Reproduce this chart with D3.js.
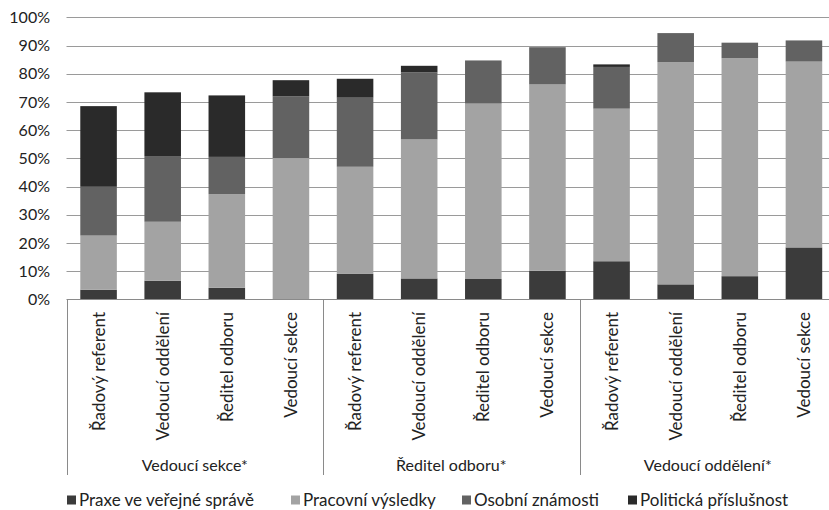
<!DOCTYPE html>
<html><head><meta charset="utf-8">
<script src="https://cdn.jsdelivr.net/npm/d3@7"></script>
<style>body{margin:0;background:#fff}svg{display:block;font-family:Lato,"Open Sans",sans-serif}</style>
</head><body><svg id="c" width="829" height="510"></svg>
<script>
const groups = ["Vedoucí sekce*", "Ředitel odboru*", "Vedoucí oddělení*"];
const roles = ["Řadový referent", "Vedoucí oddělení", "Ředitel odboru", "Vedoucí sekce"];
const seriesNames = ["Praxe ve veřejné správě", "Pracovní výsledky", "Osobní známosti", "Politická příslušnost"];
const praxe      = [3.4, 6.6, 4.1, 0,    9.0, 7.4, 7.2, 10.1,  13.5, 5.3, 8.2, 18.4];
const pracovni   = [19.2, 20.9, 33.2, 50.1, 38.0, 49.3, 62.2, 66.1, 54.1, 78.8, 77.3, 65.9];
const osobni     = [17.3, 23.3, 13.2, 21.9, 24.5, 23.8, 15.3, 13.2, 14.8, 10.3, 5.5, 7.5];
const politicka  = [28.6, 22.6, 21.8, 5.7,  6.7, 2.3, 0,    0,    0.9, 0, 0, 0];
const yTicks = [0,10,20,30,40,50,60,70,80,90,100];
const colors = ["#3b3b3b", "#a3a3a3", "#626262", "#2a2a2a"];

const cats = [];
groups.forEach((g,gi)=>roles.forEach((r,ri)=>cats.push({id:gi*4+ri, group:g, role:r})));
const rows = cats.map((c,i)=>({id:c.id, s0:praxe[i], s1:pracovni[i], s2:osobni[i], s3:politicka[i]}));
const stack = d3.stack().keys(["s0","s1","s2","s3"])(rows);

const svg = d3.select("#c");
const x0 = 66.5, x1 = 836;
const x = d3.scaleBand().domain(cats.map(c=>c.id)).range([x0,x1]).paddingInner(0.43).paddingOuter(0.215);
const xg = d3.scaleBand().domain(groups).range([x0,x1]);
const y = d3.scaleLinear().domain([0,100]).range([299.3,17.3]);

// gridlines
svg.append("g").selectAll("line").data(yTicks.filter(t=>t>0)).join("line")
  .attr("x1",x0).attr("x2",829).attr("y1",d=>Math.round(y(d))+0.5).attr("y2",d=>Math.round(y(d))+0.5)
  .attr("stroke","#9a9a9a").attr("stroke-width",1);

// y axis labels
svg.append("g").selectAll("text").data(yTicks).join("text")
  .attr("x",50).attr("y",d=>y(d)).attr("dy","0.36em").attr("text-anchor","end")
  .attr("font-size",16).attr("fill","#222").text(d=>d+"%");

// bars
svg.append("g").selectAll("g").data(stack).join("g").attr("fill",(d,i)=>colors[i])
  .selectAll("rect").data(d=>d).join("rect")
  .attr("x",d=>x(d.data.id)).attr("width",x.bandwidth())
  .attr("y",d=>y(d[1])).attr("height",d=>Math.max(0,y(d[0])-y(d[1])));

// x axis line
svg.append("line").attr("x1",x0).attr("x2",829).attr("y1",299.5).attr("y2",299.5).attr("stroke","#8a8a8a");
// group dividers
svg.append("g").selectAll("line").data(groups).join("line")
  .attr("x1",d=>Math.round(xg(d))+0.5).attr("x2",d=>Math.round(xg(d))+0.5)
  .attr("y1",299).attr("y2",475).attr("stroke","#8a8a8a");

// category labels
svg.append("g").selectAll("text").data(cats).join("text")
  .attr("transform",c=>`translate(${x(c.id)+x.bandwidth()/2},312) rotate(-90)`)
  .attr("text-anchor","end").attr("dy","0.35em").attr("font-size",17).attr("fill","#222").text(c=>c.role);

// group labels
svg.append("g").selectAll("text").data(groups).join("text")
  .attr("x",g=>xg(g)+xg.bandwidth()/2).attr("y",465).attr("dy","0.35em").attr("text-anchor","middle")
  .attr("font-size",16).attr("fill","#222").text(g=>g);

// legend
const legX = [67, 291, 462, 628];
const leg = svg.append("g").selectAll("g").data(seriesNames).join("g")
  .attr("transform",(d,i)=>`translate(${legX[i]},500)`);
leg.append("rect").attr("x",0).attr("y",-4.5).attr("width",9).attr("height",9).attr("fill",(d,i)=>colors[i]);
leg.append("text").attr("x",12).attr("dy","0.35em").attr("font-size",17).attr("fill","#222").text(d=>d);
</script></body></html>
